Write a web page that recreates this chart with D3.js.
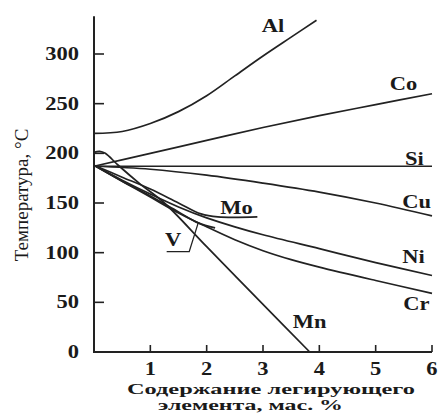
<!DOCTYPE html>
<html>
<head>
<meta charset="utf-8">
<script src="https://cdn.jsdelivr.net/npm/d3@7"></script>
<style>
  body { margin: 0; background: #fff; }
  text { font-family: "Liberation Serif", "Times New Roman", serif; fill: #1a1a1a; }
</style>
</head>
<body>
<div id="chart"></div>
<script>
// axis ticks
var tempTicks = [50, 100, 150, 200, 250, 300];
var pctTicks = [1, 2, 3, 4, 5, 6];

// curves (mass % , temperature °C)
var alPct = [0, 0.5, 1, 1.5, 2, 2.5, 3, 3.5, 3.95];
var alTemp = [220, 222, 230, 242, 258, 278, 298, 317, 334];

var coPct = [0, 1, 2, 3, 4, 5, 6];
var coTemp = [187, 200, 213, 226, 238, 249, 260];

var siPct = [0, 6];
var siTemp = [187, 187];

var cuPct = [0, 1, 2, 3, 4, 5, 6];
var cuTemp = [187, 184, 178, 170, 161, 150, 137];

var moPct = [0, 0.5, 1, 1.5, 1.9, 2.2, 2.9];
var moTemp = [188, 176, 164, 150, 139, 136, 136];

var vPct = [0, 0.5, 1, 1.5, 1.85, 2.15];
var vTemp = [188, 172, 157, 141, 130, 125];

var niPct = [0, 0.5, 1, 1.5, 2, 2.5, 3, 4, 5, 6];
var niTemp = [188, 173, 159, 146, 135, 126, 118, 104, 90, 77];

var crPct = [0, 0.5, 1, 1.5, 2, 2.5, 3, 3.5, 4, 5, 6];
var crTemp = [188, 172, 156, 140, 126, 113, 102, 93, 85.5, 72, 59];

var mnPct = [0, 0.1, 0.2, 0.43, 0.8, 1.25, 2, 3, 3.83];
var mnTemp = [201, 202, 200, 188, 170, 150, 106, 48, 0];

// label anchors (mass %, temperature)
var labelNames = ["Al", "Co", "Si", "Cu", "Mo", "V", "Ni", "Cr", "Mn"];
var labelPct = [2.98, 5.25, 5.52, 5.47, 2.24, 1.26, 5.47, 5.49, 3.53];
var labelTemp = [322, 264, 188, 145, 139, 107, 90, 42, 24];

// leader line from the V label to its curve
var vLeaderPct = [1.29, 1.69, 1.85];
var vLeaderTemp = [101, 101, 130];

var series = [
  { name: "Al", pct: alPct, temp: alTemp },
  { name: "Co", pct: coPct, temp: coTemp },
  { name: "Si", pct: siPct, temp: siTemp },
  { name: "Cu", pct: cuPct, temp: cuTemp },
  { name: "Mo", pct: moPct, temp: moTemp },
  { name: "V", pct: vPct, temp: vTemp },
  { name: "Ni", pct: niPct, temp: niTemp },
  { name: "Cr", pct: crPct, temp: crTemp },
  { name: "Mn", pct: mnPct, temp: mnTemp }
];

var width = 440;
var height = 415;
var ink = "#222";
var stretch = 1.25;

var svg = d3.select("#chart")
  .append("svg")
  .attr("width", width)
  .attr("height", height);

var x = d3.scaleLinear().domain([0, 6]).range([94, 432]);
var y = d3.scaleLinear().domain([0, 300]).range([352, 54]);

// axes
svg.append("line")
  .attr("x1", x(0)).attr("x2", x(0))
  .attr("y1", y(338)).attr("y2", y(0))
  .attr("stroke", ink).attr("stroke-width", 2);
svg.append("line")
  .attr("x1", x(0) - 1).attr("x2", x(6))
  .attr("y1", y(0)).attr("y2", y(0))
  .attr("stroke", ink).attr("stroke-width", 2);

svg.selectAll(".ytick")
  .data(tempTicks)
  .enter()
  .append("line")
  .attr("class", "ytick")
  .attr("x1", x(0)).attr("x2", x(0) + 10)
  .attr("y1", (d) => y(d)).attr("y2", (d) => y(d))
  .attr("stroke", ink).attr("stroke-width", 1.6);

svg.selectAll(".xtick")
  .data(pctTicks)
  .enter()
  .append("line")
  .attr("class", "xtick")
  .attr("x1", (d) => x(d)).attr("x2", (d) => x(d))
  .attr("y1", y(0)).attr("y2", y(0) - 7)
  .attr("stroke", ink).attr("stroke-width", 1.6);

// stretched serif text, like the scan
function label(px, py, str, anchor, size, weight) {
  return svg.append("text")
    .attr("transform", "translate(" + px + "," + py + ") scale(" + stretch + ",1)")
    .attr("text-anchor", anchor)
    .attr("font-size", size)
    .attr("font-weight", weight)
    .text(str);
}

[0].concat(tempTicks).forEach(function (d) {
  label(79, y(d) + 6, d, "end", 18, "bold");
});
pctTicks.forEach(function (d) {
  label(x(d), 375, d, "middle", 18, "bold");
});

// curves
var line = d3.line()
  .x((d) => x(d[0]))
  .y((d) => y(d[1]))
  .curve(d3.curveCatmullRom.alpha(0.5));

svg.selectAll(".curve")
  .data(series)
  .enter()
  .append("path")
  .attr("class", "curve")
  .attr("fill", "none")
  .attr("stroke", ink)
  .attr("stroke-width", 1.7)
  .attr("d", (s) => line(s.pct.map((p, i) => [p, s.temp[i]])));

svg.append("path")
  .attr("fill", "none")
  .attr("stroke", ink)
  .attr("stroke-width", 1.3)
  .attr("d", d3.line()
    .x((d) => x(d[0]))
    .y((d) => y(d[1]))(vLeaderPct.map((p, i) => [p, vLeaderTemp[i]])));

labelNames.forEach(function (n, i) {
  label(x(labelPct[i]), y(labelTemp[i]), n, "start", 18, "bold");
});

// axis titles
svg.append("text")
  .attr("x", 127).attr("y", 394)
  .attr("font-size", 14).attr("font-weight", "bold")
  .attr("textLength", 288).attr("lengthAdjust", "spacingAndGlyphs")
  .text("Содержание легирующего");
svg.append("text")
  .attr("x", 158).attr("y", 410)
  .attr("font-size", 14).attr("font-weight", "bold")
  .attr("textLength", 185).attr("lengthAdjust", "spacingAndGlyphs")
  .text("элемента, мас. %");

svg.append("text")
  .attr("transform", "translate(28,195) rotate(-90)")
  .attr("text-anchor", "middle")
  .attr("font-size", 19)
  .text("Температура, °C");
</script>
</body>
</html>
